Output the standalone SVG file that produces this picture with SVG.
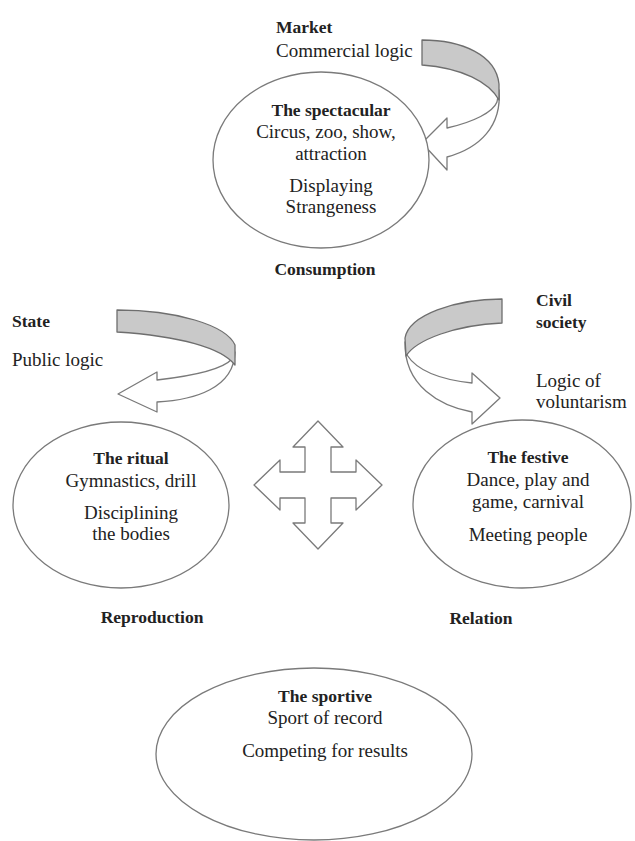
<svg xmlns="http://www.w3.org/2000/svg" width="635" height="841" viewBox="0 0 635 841">
<style>
.bg{fill:#ffffff}
.ell{fill:#ffffff;stroke:#7a7a7a;stroke-width:1.3}
.band{fill:#c9c9c9;stroke:#6e6e6e;stroke-width:1.3;stroke-linejoin:round}
.arw{fill:#ffffff;stroke:#7a7a7a;stroke-width:1.3;stroke-linejoin:round}
text{font-family:"Liberation Serif","Times New Roman",serif;fill:#222222}
.b{font-weight:bold;font-size:17.5px}
.r{font-size:19px}
.c{text-anchor:middle}
</style>
<rect class="bg" x="0" y="0" width="635" height="841"/>

<g id="connectors">
  <g id="market-arrow">
    <path class="arw" d="M499,90 C502,126 480,148 447,157 L447,170 L422,143 L447,118 L447,128 C474,122 493,112 497,102 Z"/>
    <path class="band" d="M422,40 C462,40 496,55 499,84 L499,100 C489,82 462,68 422,65 Z"/>
  </g>
  <g id="state-arrow">
    <path class="arw" d="M235,352 C234,388 195,400 157,402 L157,412 L118,394 L157,372 L157,380 C192,376 222,370 232,359 Z"/>
    <path class="band" d="M117,310 C176,310 226,325 235,345 L235,365 C222,348 180,336 117,332 Z"/>
  </g>
  <g id="civil-arrow">
    <path class="arw" d="M405,342 C404,386 440,406 472,412 L472,424 L500,398 L472,373 L472,383 C444,380 418,372 407,355 Z"/>
    <path class="band" d="M502,299 C455,299 409,315 405,338 L406,356 C416,340 455,325 502,323 Z"/>
  </g>
  <g id="cross-arrow">
    <path class="arw" d="M305,472 L305,447 L293,447 L318,421 L343,447 L331,447 L331,472 L356,472 L356,460 L382,485 L356,510 L356,498 L331,498 L331,523 L343,523 L318,549 L293,523 L305,523 L305,498 L280,498 L280,510 L254,485 L280,460 L280,472 Z"/>
  </g>
</g>

<g id="market-label">
  <text class="b" x="276" y="33">Market</text>
  <text class="r" x="276" y="57">Commercial logic</text>
</g>

<g id="spectacular">
  <ellipse class="ell" cx="321" cy="160" rx="108" ry="88"/>
  <text class="b c" x="331" y="116">The spectacular</text>
  <text class="r c" x="326" y="138">Circus, zoo, show,</text>
  <text class="r c" x="331" y="160">attraction</text>
  <text class="r c" x="331" y="192">Displaying</text>
  <text class="r c" x="331" y="213">Strangeness</text>
</g>

<g id="consumption-label">
  <text class="b c" x="325" y="275">Consumption</text>
</g>

<g id="state-label">
  <text class="b" x="12" y="327">State</text>
  <text class="r" x="12" y="366">Public logic</text>
</g>

<g id="civil-label">
  <text class="b" x="536" y="306">Civil</text>
  <text class="b" x="536" y="328">society</text>
  <text class="r" x="536" y="387">Logic of</text>
  <text class="r" x="536" y="408">voluntarism</text>
</g>

<g id="ritual">
  <ellipse class="ell" cx="121" cy="505" rx="108" ry="83"/>
  <text class="b c" x="131" y="464">The ritual</text>
  <text class="r c" x="131" y="487">Gymnastics, drill</text>
  <text class="r c" x="131" y="519">Disciplining</text>
  <text class="r c" x="131" y="540">the bodies</text>
</g>

<g id="festive">
  <ellipse class="ell" cx="522" cy="504" rx="109" ry="84"/>
  <text class="b c" x="528" y="463">The festive</text>
  <text class="r c" x="528" y="486">Dance, play and</text>
  <text class="r c" x="528" y="508">game, carnival</text>
  <text class="r c" x="528" y="541">Meeting people</text>
</g>

<g id="reproduction-label">
  <text class="b c" x="152" y="623">Reproduction</text>
</g>

<g id="relation-label">
  <text class="b c" x="481" y="624">Relation</text>
</g>

<g id="sportive">
  <ellipse class="ell" cx="314" cy="754" rx="158" ry="86"/>
  <text class="b c" x="325" y="702">The sportive</text>
  <text class="r c" x="325" y="724">Sport of record</text>
  <text class="r c" x="325" y="757">Competing for results</text>
</g>
</svg>
